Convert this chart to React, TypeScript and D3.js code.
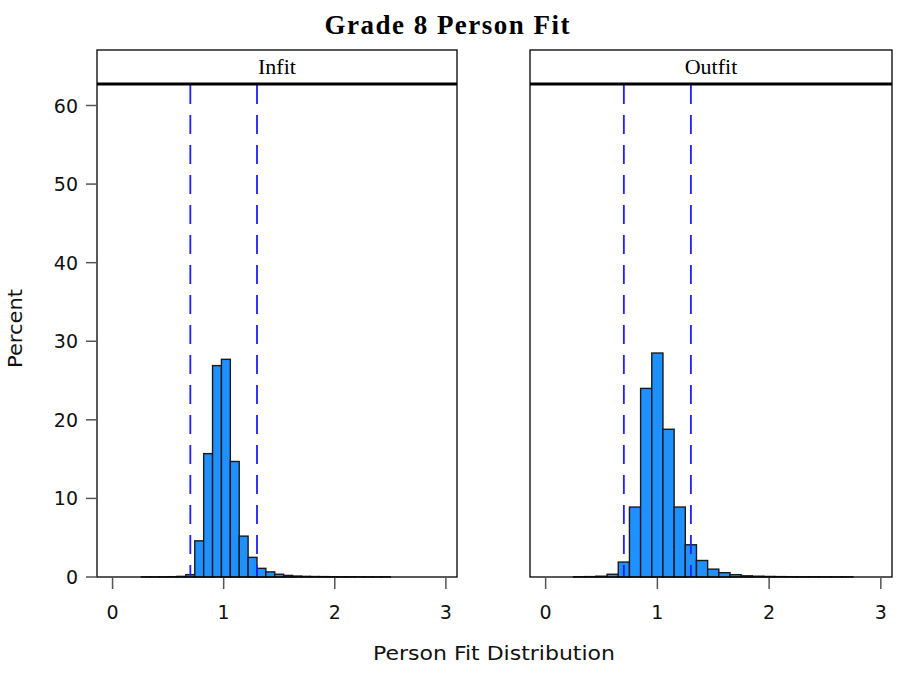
import React from "react";
import * as d3 from "d3";

const chartTitle = "Grade 8 Person Fit";
const panelNames = ["Infit", "Outfit"];
const xTicks = [0, 1, 2, 3];
const yTicks = [0, 10, 20, 30, 40, 50, 60];
const refLines = [0.7, 1.3];

const infitBinStart = [0.26, 0.34, 0.42, 0.5, 0.58, 0.66, 0.74, 0.82, 0.9, 0.98, 1.06, 1.14, 1.22, 1.3, 1.38, 1.46, 1.54, 1.62, 1.7, 1.78, 1.86, 1.94, 2.02, 2.1, 2.18, 2.26, 2.34, 2.42];
const infitPercent = [0.02, 0.02, 0.03, 0.04, 0.08, 0.3, 4.6, 15.7, 26.9, 27.7, 14.7, 5.2, 2.5, 1.1, 0.65, 0.35, 0.2, 0.12, 0.08, 0.06, 0.05, 0.04, 0.03, 0.03, 0.02, 0.02, 0.02, 0.02];
const infitBinWidth = 0.08;

const outfitBinStart = [0.25, 0.35, 0.45, 0.55, 0.65, 0.75, 0.85, 0.95, 1.05, 1.15, 1.25, 1.35, 1.45, 1.55, 1.65, 1.75, 1.85, 1.95, 2.05, 2.15, 2.25, 2.35, 2.45, 2.55, 2.65];
const outfitPercent = [0.03, 0.05, 0.1, 0.35, 1.9, 8.9, 24.0, 28.5, 18.8, 8.9, 4.1, 2.1, 1.0, 0.55, 0.3, 0.15, 0.1, 0.07, 0.05, 0.04, 0.03, 0.03, 0.02, 0.02, 0.02];
const outfitBinWidth = 0.1;

const W = 898;
const H = 677;
const plotTop = 84;
const plotBottom = 577;
const headerTop = 50;
const panels = [
  { name: panelNames[0], x0: 97, x1: 457, starts: infitBinStart, values: infitPercent, bw: infitBinWidth },
  { name: panelNames[1], x0: 530, x1: 892, starts: outfitBinStart, values: outfitPercent, bw: outfitBinWidth },
];

const sans = "'DejaVu Sans', sans-serif";
const serif = "'Liberation Serif', 'Times New Roman', serif";

export default function App() {
  const y = d3.scaleLinear().domain([0, 60]).range([plotBottom, 105.5]);
  return (
    <svg width={W} height={H} style={{ position: "absolute", left: 0, top: 0, background: "#fff" }}>
      <rect width={W} height={H} fill="#fff" />
      <text x={447} y={34} textAnchor="middle" fontFamily={serif} fontWeight="bold" fontSize={27} textLength={245} lengthAdjust="spacing" fill="#000">
        {chartTitle}
      </text>
      {panels.map((p, pi) => {
        const x = d3.scaleLinear().domain([-0.14, 3.1]).range([p.x0, p.x1]);
        return (
          <g key={p.name}>
            {p.starts.map((s, i) => (
              <rect
                key={i}
                x={x(s)}
                y={y(p.values[i])}
                width={x(s + p.bw) - x(s)}
                height={y(0) - y(p.values[i])}
                fill="#1e90ff"
                stroke="#1a1a1a"
                strokeWidth={1.4}
              />
            ))}
            {refLines.map((r) => (
              <line key={r} x1={x(r)} x2={x(r)} y1={plotTop + 1} y2={plotBottom} stroke="#1f1fff" strokeWidth={1.8} strokeDasharray="19,11" />
            ))}
            <rect x={p.x0} y={headerTop} width={p.x1 - p.x0} height={plotBottom - headerTop} fill="none" stroke="#000" strokeWidth={1.3} />
            <line x1={p.x0} x2={p.x1} y1={plotTop} y2={plotTop} stroke="#000" strokeWidth={3} />
            <text x={(p.x0 + p.x1) / 2} y={74} textAnchor="middle" fontFamily={serif} fontSize={22} fill="#000">
              {p.name}
            </text>
            {xTicks.map((t) => (
              <g key={t}>
                <line x1={x(t)} x2={x(t)} y1={plotBottom + 1} y2={plotBottom + 12} stroke="#555" strokeWidth={1.5} />
                <text x={x(t)} y={619} textAnchor="middle" fontFamily={sans} fontSize={19} fill="#111">
                  {t}
                </text>
              </g>
            ))}
            {pi === 0 &&
              yTicks.map((t) => (
                <g key={t}>
                  <line x1={86} x2={p.x0} y1={y(t)} y2={y(t)} stroke="#555" strokeWidth={1.5} />
                  <text x={78} y={y(t) + 7} textAnchor="end" fontFamily={sans} fontSize={19} fill="#111">
                    {t}
                  </text>
                </g>
              ))}
          </g>
        );
      })}
      <text x={494} y={660} textAnchor="middle" fontFamily={sans} fontSize={20} textLength={242} lengthAdjust="spacingAndGlyphs" fill="#111">
        Person Fit Distribution
      </text>
      <text transform="translate(22,328.5) rotate(-90)" textAnchor="middle" fontFamily={sans} fontSize={20} textLength={79} lengthAdjust="spacingAndGlyphs" fill="#111">
        Percent
      </text>
    </svg>
  );
}
